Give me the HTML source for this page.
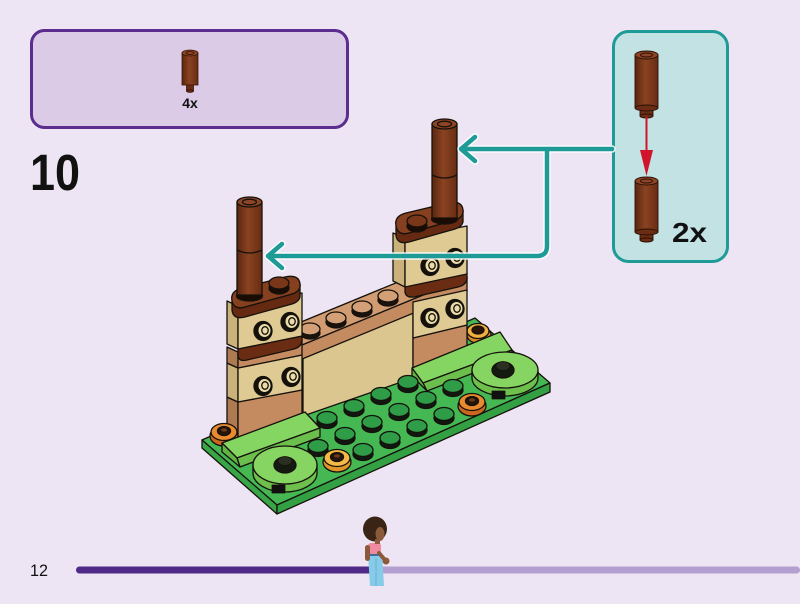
<!DOCTYPE html>
<html><head><meta charset="utf-8"><style>html,body{margin:0;padding:0;background:#ede5f3;}svg{display:block}</style></head>
<body>
<svg width="800" height="604" viewBox="0 0 800 604" xmlns="http://www.w3.org/2000/svg">
<defs>
<linearGradient id="col" x1="0" x2="1" y1="0" y2="0">
<stop offset="0" stop-color="#5a260f"/><stop offset="0.45" stop-color="#8a4322"/><stop offset="1" stop-color="#682c12"/>
</linearGradient>
</defs>
<rect width="800" height="604" fill="#ede5f3"/>

<!-- parts box -->
<rect x="31.5" y="30.5" width="316" height="97" rx="13" fill="#dccbe6" stroke="#5b2d8e" stroke-width="3"/>
<g stroke="#3a1608" stroke-width="0.8">
<rect x="186.5" y="84" width="7" height="7" fill="#6a2c12"/>
<ellipse cx="190" cy="91" rx="3.5" ry="1.3" fill="#6a2c12"/>
<rect x="182" y="53" width="16" height="32" fill="url(#col)"/>
<ellipse cx="190" cy="53" rx="8" ry="3" fill="#8e4525"/>
<ellipse cx="190" cy="53" rx="4" ry="1.5" fill="none"/>
</g>
<text x="190" y="108" font-family="Liberation Sans, sans-serif" font-weight="bold" font-size="14" text-anchor="middle" fill="#111">4x</text>

<!-- step number -->
<text x="30" y="190" font-family="Liberation Sans, sans-serif" font-weight="bold" font-size="51" textLength="50" lengthAdjust="spacingAndGlyphs" fill="#111">10</text>

<!-- callout -->
<rect x="613.5" y="31.5" width="114" height="230" rx="15" fill="#c2e2e3" stroke="#1e9b97" stroke-width="3"/>
<g stroke="#2a1006" stroke-width="0.9">
<rect x="640" y="106" width="13" height="10" fill="#6a2c12"/>
<ellipse cx="646.5" cy="116" rx="6.5" ry="2" fill="#6a2c12"/>
<rect x="635" y="55" width="23" height="53" fill="url(#col)"/>
<ellipse cx="646.5" cy="108" rx="11.5" ry="3" fill="#6a2c12"/>
<ellipse cx="646.5" cy="55" rx="11.5" ry="4" fill="#8e4525"/>
<ellipse cx="646.5" cy="55" rx="6" ry="2" fill="none"/>
</g>
<line x1="646.5" y1="117" x2="646.5" y2="155" stroke="#d0142c" stroke-width="2"/>
<polygon points="640,150 653,150 646.5,176" fill="#d0142c"/>
<g stroke="#2a1006" stroke-width="0.9">
<rect x="640" y="230" width="13" height="10" fill="#6a2c12"/>
<ellipse cx="646.5" cy="240" rx="6.5" ry="2" fill="#6a2c12"/>
<rect x="635" y="181" width="23" height="51" fill="url(#col)"/>
<ellipse cx="646.5" cy="232" rx="11.5" ry="3" fill="#6a2c12"/>
<ellipse cx="646.5" cy="181" rx="11.5" ry="4" fill="#8e4525"/>
<ellipse cx="646.5" cy="181" rx="6" ry="2" fill="none"/>
</g>
<text x="672" y="242" font-family="Liberation Sans, sans-serif" font-weight="bold" font-size="28" textLength="35" lengthAdjust="spacingAndGlyphs" fill="#111">2x</text>

<!-- MODEL -->
<g stroke="#15110b" stroke-width="1.3" stroke-linejoin="round">
<!-- base plate -->
<polygon points="202,440 277,505 550,383 475,318" fill="#45b854"/>
<polygon points="202,440 277,505 277,514 202,448" fill="#38a547"/>
<polygon points="277,505 550,383 550,392 277,514" fill="#33a043"/>

<!-- flower behind right pillar -->
<ellipse cx="479" cy="335" rx="12" ry="8.5" fill="#d98a2a"/>
<ellipse cx="478" cy="331" rx="11" ry="7.5" fill="#f0b040"/>
<ellipse cx="478" cy="330" rx="6" ry="4" fill="#2a1608"/>

<!-- panel -->
<polygon points="303,358 413,313 413,378 303,416" fill="#dcc690"/>

<!-- long plate -->
<polygon points="290,350 467,277 449,261 272,334" fill="#d19c72"/>
<polygon points="290,350 467,277 467,291 290,364" fill="#c48b61"/>
<g>
<ellipse cx="310" cy="333" rx="10" ry="6" fill="#1a120c"/><ellipse cx="310" cy="329" rx="10" ry="6" fill="#d29f77"/>
<ellipse cx="336" cy="322" rx="10" ry="6" fill="#1a120c"/><ellipse cx="336" cy="318" rx="10" ry="6" fill="#d29f77"/>
<ellipse cx="362" cy="311" rx="10" ry="6" fill="#1a120c"/><ellipse cx="362" cy="307" rx="10" ry="6" fill="#d29f77"/>
<ellipse cx="388" cy="300" rx="10" ry="6" fill="#1a120c"/><ellipse cx="388" cy="296" rx="10" ry="6" fill="#d29f77"/>
</g>

<!-- right pillar lower -->
<polygon points="413,338 467,325 467,356 413,370" fill="#c48b61"/>
<polygon points="413,302 467,290 467,325 413,338" fill="#dfca93"/>
<ellipse cx="430" cy="318" rx="9" ry="9.5" fill="#15100b"/><ellipse cx="431.5" cy="317.5" rx="6.5" ry="7" fill="#eadba8" stroke-width="1"/><ellipse cx="432" cy="317.5" rx="3.2" ry="3.8" fill="none"/>
<ellipse cx="455" cy="309" rx="9" ry="9.5" fill="#15100b"/><ellipse cx="456.5" cy="308.5" rx="6.5" ry="7" fill="#eadba8" stroke-width="1"/><ellipse cx="457" cy="308.5" rx="3.2" ry="3.8" fill="none"/>

<!-- right pillar upper -->
<path d="M405,286 L467,273 L467,279 Q466,285 458,287 L414,297 Q406,298 405,292 Z" fill="#6a2d13"/>
<polygon points="393,233 405,238 405,287 393,281" fill="#cab27a"/>
<polygon points="405,238 467,226 467,274 405,287" fill="#dfca93"/>
<ellipse cx="430" cy="266" rx="9" ry="9.5" fill="#15100b"/><ellipse cx="431.5" cy="265.5" rx="6.5" ry="7" fill="#eadba8" stroke-width="1"/><ellipse cx="432" cy="265.5" rx="3.2" ry="3.8" fill="none"/>
<ellipse cx="455" cy="258" rx="9" ry="9.5" fill="#15100b"/><ellipse cx="456.5" cy="257.5" rx="6.5" ry="7" fill="#eadba8" stroke-width="1"/><ellipse cx="457" cy="257.5" rx="3.2" ry="3.8" fill="none"/>
<path d="M396,226 Q398,236 409,233 L455,220 Q464,217 463,210 L463,219 Q464,226 455,229 L409,242 Q397,245 396,235 Z" fill="#652a11"/>
<path d="M396,226 Q394,216 406,213 L448,203 Q462,200 463,210 Q464,217 455,220 L409,233 Q398,236 396,226 Z" fill="#86401f"/>
<ellipse cx="417" cy="226" rx="10" ry="6" fill="#1a0c05"/><ellipse cx="417" cy="221" rx="10" ry="6" fill="#7a3619"/>
<ellipse cx="444.5" cy="219" rx="13" ry="5" fill="#1a0c05"/>
<rect x="432" y="124" width="25" height="94" fill="url(#col)"/>
<path d="M432,175 Q444.5,181 457,175" fill="none"/>
<ellipse cx="444.5" cy="124" rx="12.5" ry="5" fill="#8e4525"/>
<ellipse cx="444.5" cy="124" rx="7" ry="2.8" fill="none"/>

<!-- left pillar -->
<polygon points="227,397 238,402 238,446 227,441" fill="#ad7a52"/>
<polygon points="238,402 302,390 302,432 238,446" fill="#c48b61"/>
<polygon points="227,363 238,368 238,402 227,397" fill="#cab27a"/>
<polygon points="238,368 302,355 302,390 238,402" fill="#dfca93"/>
<ellipse cx="263" cy="386" rx="9" ry="9.5" fill="#15100b"/><ellipse cx="264.5" cy="385.5" rx="6.5" ry="7" fill="#eadba8" stroke-width="1"/><ellipse cx="265" cy="385.5" rx="3.2" ry="3.8" fill="none"/>
<ellipse cx="291" cy="377" rx="9" ry="9.5" fill="#15100b"/><ellipse cx="292.5" cy="376.5" rx="6.5" ry="7" fill="#eadba8" stroke-width="1"/><ellipse cx="293" cy="376.5" rx="3.2" ry="3.8" fill="none"/>
<polygon points="227,347 238,352 238,368 227,363" fill="#ad7a52"/>
<polygon points="238,352 302,339 302,355 238,368" fill="#c48b61"/>
<path d="M238,349 L302,336 L302,341 Q301,347 294,349 L247,360 Q239,362 238,356 Z" fill="#6a2d13"/>
<polygon points="227,301 238,306 238,349 227,344" fill="#cab27a"/>
<polygon points="238,306 302,293 302,336 238,349" fill="#dfca93"/>
<ellipse cx="263" cy="331" rx="9" ry="9.5" fill="#15100b"/><ellipse cx="264.5" cy="330.5" rx="6.5" ry="7" fill="#eadba8" stroke-width="1"/><ellipse cx="265" cy="330.5" rx="3.2" ry="3.8" fill="none"/>
<ellipse cx="290" cy="322" rx="9" ry="9.5" fill="#15100b"/><ellipse cx="291.5" cy="321.5" rx="6.5" ry="7" fill="#eadba8" stroke-width="1"/><ellipse cx="292" cy="321.5" rx="3.2" ry="3.8" fill="none"/>
<path d="M232,301 Q234,310 245,307 L292,294 Q301,291 300,284 L300,294 Q301,301 292,304 L245,317 Q233,320 232,310 Z" fill="#652a11"/>
<path d="M232,301 Q230,291 242,288 L285,277 Q299,274 300,284 Q301,291 292,294 L245,307 Q234,310 232,301 Z" fill="#86401f"/>
<ellipse cx="279" cy="288" rx="10" ry="6" fill="#1a0c05"/><ellipse cx="279" cy="283" rx="10" ry="6" fill="#7a3619"/>
<ellipse cx="249.5" cy="296" rx="13" ry="5" fill="#1a0c05"/>
<rect x="237" y="202" width="25" height="93" fill="url(#col)"/>
<path d="M237,250 Q249.5,256 262,250" fill="none"/>
<ellipse cx="249.5" cy="202" rx="12.5" ry="5" fill="#8e4525"/>
<ellipse cx="249.5" cy="202" rx="7" ry="2.8" fill="none"/>

<!-- left orange flower (behind tile) -->
<ellipse cx="224" cy="436" rx="14" ry="10" fill="#c9661f"/>
<ellipse cx="224" cy="432" rx="13" ry="8.5" fill="#e98a2e"/>
<ellipse cx="224" cy="431" rx="6.5" ry="4.5" fill="#2a1608"/>
<ellipse cx="224" cy="430" rx="3.5" ry="2.2" fill="#6b3a1a" stroke-width="0.8"/>

<!-- lime tiles -->
<polygon points="222,443 305,412 320,428 237,458" fill="#85d563"/>
<polygon points="237,458 320,428 320,437 240,467" fill="#6cbf4c"/>
<polygon points="222,443 237,458 240,467 222,452" fill="#62b544"/>
<polygon points="412,368 500,332 512,350 423,383" fill="#85d563"/>
<polygon points="423,383 512,350 512,358 427,391" fill="#6cbf4c"/>
<polygon points="412,368 423,383 427,391 412,376" fill="#62b544"/>

<!-- base studs -->
<g>
<ellipse cx="327" cy="422" rx="10" ry="6.5" fill="#101810"/><ellipse cx="327" cy="418" rx="10" ry="6.5" fill="#2f9c48"/>
<ellipse cx="354" cy="410" rx="10" ry="6.5" fill="#101810"/><ellipse cx="354" cy="406" rx="10" ry="6.5" fill="#2f9c48"/>
<ellipse cx="381" cy="398" rx="10" ry="6.5" fill="#101810"/><ellipse cx="381" cy="394" rx="10" ry="6.5" fill="#2f9c48"/>
<ellipse cx="408" cy="386" rx="10" ry="6.5" fill="#101810"/><ellipse cx="408" cy="382" rx="10" ry="6.5" fill="#2f9c48"/>
<ellipse cx="318" cy="450" rx="10" ry="6.5" fill="#101810"/><ellipse cx="318" cy="446" rx="10" ry="6.5" fill="#2f9c48"/>
<ellipse cx="345" cy="438" rx="10" ry="6.5" fill="#101810"/><ellipse cx="345" cy="434" rx="10" ry="6.5" fill="#2f9c48"/>
<ellipse cx="372" cy="426" rx="10" ry="6.5" fill="#101810"/><ellipse cx="372" cy="422" rx="10" ry="6.5" fill="#2f9c48"/>
<ellipse cx="399" cy="414" rx="10" ry="6.5" fill="#101810"/><ellipse cx="399" cy="410" rx="10" ry="6.5" fill="#2f9c48"/>
<ellipse cx="426" cy="402" rx="10" ry="6.5" fill="#101810"/><ellipse cx="426" cy="398" rx="10" ry="6.5" fill="#2f9c48"/>
<ellipse cx="453" cy="390" rx="10" ry="6.5" fill="#101810"/><ellipse cx="453" cy="386" rx="10" ry="6.5" fill="#2f9c48"/>
<ellipse cx="363" cy="454" rx="10" ry="6.5" fill="#101810"/><ellipse cx="363" cy="450" rx="10" ry="6.5" fill="#2f9c48"/>
<ellipse cx="390" cy="442" rx="10" ry="6.5" fill="#101810"/><ellipse cx="390" cy="438" rx="10" ry="6.5" fill="#2f9c48"/>
<ellipse cx="417" cy="430" rx="10" ry="6.5" fill="#101810"/><ellipse cx="417" cy="426" rx="10" ry="6.5" fill="#2f9c48"/>
<ellipse cx="444" cy="418" rx="10" ry="6.5" fill="#101810"/><ellipse cx="444" cy="414" rx="10" ry="6.5" fill="#2f9c48"/>
</g>

<!-- round tiles -->
<path d="M253,465 L253,473 A32,19 0 0 0 317,473 L317,465 Z" fill="#6ec04c"/>
<ellipse cx="285" cy="465" rx="32" ry="19" fill="#86d462"/>
<rect x="272" y="485" width="13" height="8" fill="#111" stroke-width="0.8"/>
<ellipse cx="285" cy="465" rx="11" ry="8" fill="#141a10"/>
<ellipse cx="285" cy="461" rx="7" ry="4.5" fill="#2a2f22" stroke-width="0.8"/>

<path d="M472,370 L472,378 A33,18 0 0 0 538,378 L538,370 Z" fill="#6ec04c"/>
<ellipse cx="505" cy="370" rx="33" ry="18" fill="#86d462"/>
<rect x="492" y="391" width="13" height="8" fill="#111" stroke-width="0.8"/>
<ellipse cx="503" cy="370" rx="11" ry="8" fill="#141a10"/>
<ellipse cx="503" cy="366" rx="7" ry="4.5" fill="#2a2f22" stroke-width="0.8"/>

<!-- flowers -->
<ellipse cx="337" cy="462" rx="14" ry="10" fill="#e0962a"/>
<ellipse cx="337" cy="458" rx="13" ry="8.5" fill="#f5b945"/>
<ellipse cx="337" cy="457" rx="6.5" ry="4.5" fill="#2a1608"/>
<ellipse cx="337" cy="456" rx="3.5" ry="2.2" fill="#6b3a1a" stroke-width="0.8"/>

<ellipse cx="472" cy="406" rx="14" ry="10" fill="#c9661f"/>
<ellipse cx="472" cy="402" rx="13" ry="8.5" fill="#e98a2e"/>
<ellipse cx="472" cy="401" rx="6.5" ry="4.5" fill="#2a1608"/>
<ellipse cx="472" cy="400" rx="3.5" ry="2.2" fill="#6b3a1a" stroke-width="0.8"/>
</g>

<!-- connectors -->
<g fill="none" stroke-linecap="round" stroke-linejoin="round">
<path d="M612,149 H462 M547,149 V246 Q547,256 537,256 H268 M475,137 L461,149 L475,161 M282,244 L268,256 L282,268" stroke="#ffffff" stroke-opacity="0.85" stroke-width="7.5"/>
<path d="M612,149 H462 M547,149 V246 Q547,256 537,256 H268 M475,137 L461,149 L475,161 M282,244 L268,256 L282,268" stroke="#1e9b97" stroke-width="4.5"/>
</g>

<!-- progress bar -->
<rect x="76" y="566.5" width="724" height="7" rx="3.5" fill="#b3a0d0"/>
<rect x="76" y="566.5" width="300" height="7" rx="3.5" fill="#4f2a89"/>
<text x="30" y="576" font-family="Liberation Sans, sans-serif" font-size="17" textLength="18" lengthAdjust="spacingAndGlyphs" fill="#111">12</text>

<!-- minifigure -->
<g>
<path d="M368,554 H382 L384,586 H370 Z" fill="#86cbe8"/>
<line x1="376" y1="558" x2="376" y2="586" stroke="#6bb3d6" stroke-width="1"/>
<rect x="368" y="553" width="14" height="3" fill="#3b6f9a"/>
<rect x="368" y="543" width="13" height="11" rx="3" fill="#ef8aa0"/>
<rect x="365" y="545" width="5" height="16" rx="2.5" fill="#8b5a3b"/>
<line x1="379" y1="553" x2="385" y2="560" stroke="#8b5a3b" stroke-width="4" stroke-linecap="round"/>
<circle cx="386" cy="561" r="3.5" fill="#8b5a3b"/>
<ellipse cx="375" cy="529" rx="12" ry="12.5" fill="#3a2415"/>
<ellipse cx="380" cy="534" rx="4.5" ry="7" fill="#8b5a3b"/>
<rect x="375" y="539" width="5" height="5" fill="#8b5a3b"/>
</g>
</svg>
</body></html>
